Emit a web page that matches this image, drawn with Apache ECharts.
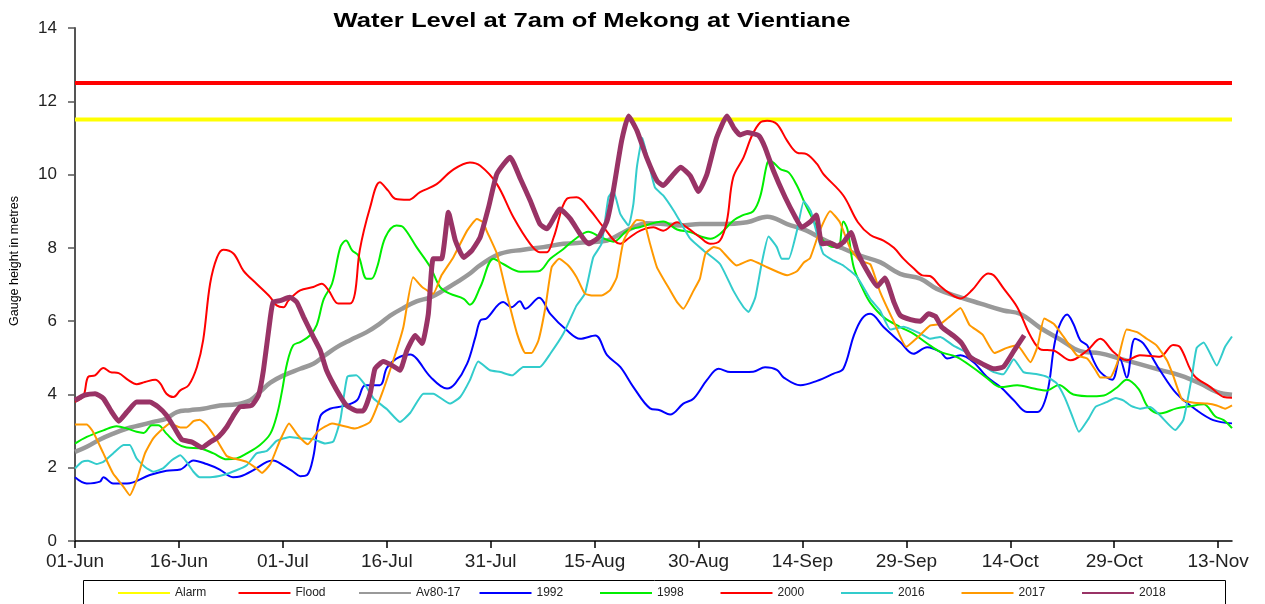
<!DOCTYPE html>
<html>
<head>
<meta charset="utf-8">
<script src="https://cdn.jsdelivr.net/npm/echarts@6/dist/echarts.min.js"></script>
<style>
html,body{margin:0;padding:0;background:#fff;}
#chart{width:1265px;height:604px;}
</style>
</head>
<body>
<div id="chart"></div>
<script>
// x values are days counted from 01-Jun (day 0) to 15-Nov (day 167)
const tickDays = [0,15,30,45,60,75,90,105,120,135,150,165];
const tickLabels = ['01-Jun','16-Jun','01-Jul','16-Jul','31-Jul','15-Aug','30-Aug','14-Sep','29-Sep','14-Oct','29-Oct','13-Nov'];
const seriesNames = ['Alarm','Flood','Av80-17','1992','1998','2000','2016','2017','2018'];
const alarmLevel = [[0,11.5],[167,11.5]];
const floodLevel = [[0,12.5],[167,12.5]];

const av8017 = [[0,2.43],[1.7,2.57],[3.6,2.77],[5.5,2.93],[7.5,3.07],[9.4,3.16],[11.3,3.25],[13.2,3.34],[14.7,3.52],[16.6,3.57],[18.5,3.61],[20.9,3.70],[23.3,3.73],[25.3,3.84],[26.7,4.07],[28.2,4.32],[30.1,4.52],[32.5,4.70],[34.4,4.84],[36.1,5.07],[37.8,5.29],[39.7,5.48],[42.1,5.70],[44,5.93],[45.5,6.15],[47.4,6.36],[49.3,6.54],[51.3,6.65],[53.2,6.84],[55.1,7.06],[57,7.3],[58.5,7.53],[61.4,7.84],[64.7,7.95],[67.6,8.02],[70.5,8.11],[73.9,8.15],[76.8,8.2],[78.7,8.38],[80.6,8.56],[82.5,8.67],[84.9,8.65],[87.4,8.61],[90.2,8.65],[93.1,8.65],[97,8.70],[99.9,8.85],[102.8,8.65],[105.6,8.47],[107.6,8.27],[110.4,8.02],[113.3,7.79],[116.2,7.61],[119.1,7.29],[122,7.16],[124.4,6.88],[127.8,6.65],[130.7,6.48],[134,6.29],[136.4,6.2],[139.3,5.82],[142.2,5.5],[145.1,5.18],[148,5.12],[150.9,4.97],[153.8,4.82],[156.6,4.67],[159.5,4.52],[162.4,4.3],[164.8,4.07],[167,3.99]];

const y1992 = [[0,1.74],[1.7,1.57],[3.6,1.62],[4.1,1.74],[5.5,1.57],[7.5,1.57],[10.8,1.80],[13.2,1.92],[15.2,1.95],[17.1,2.2],[19,2.1],[20.9,1.95],[22.8,1.74],[23.8,1.76],[25.7,1.93],[27.7,2.16],[28.6,2.2],[30,2.07],[31.5,1.89],[32.5,1.77],[33.5,1.8],[34.4,2.3],[35.4,3.4],[36.8,3.61],[38.7,3.68],[40.7,3.84],[41.9,4.25],[44,4.25],[45,4.72],[46.4,4.98],[48.4,5.09],[49.3,4.98],[51.3,4.48],[53.7,4.16],[54.9,4.3],[56.6,4.84],[57.8,5.57],[58.5,6.02],[59.4,6.07],[61.8,6.52],[63,6.38],[64.2,6.54],[65,6.34],[67,6.64],[68.6,6.2],[71,5.75],[72.9,5.52],[75.1,5.61],[76.8,5.07],[78.7,4.75],[80.6,4.2],[83,3.62],[84.4,3.57],[85.9,3.45],[87.8,3.75],[89.3,3.89],[91.2,4.39],[92.9,4.7],[94.6,4.61],[97.9,4.62],[99.6,4.74],[101.3,4.67],[102.3,4.46],[104.7,4.25],[107.1,4.37],[109.5,4.57],[110.9,4.7],[112.4,5.6],[113.6,6.07],[114.8,6.2],[116.7,5.84],[119.1,5.43],[121,5.11],[123,5.29],[124.9,5.16],[125.9,4.98],[127.8,5.07],[129.7,4.88],[131.6,4.48],[133.6,4.2],[135.5,3.84],[137.4,3.52],[138.9,3.52],[140.3,4.02],[141.3,5.29],[142,5.84],[143.2,6.18],[144.1,5.93],[145.1,5.48],[146.1,5.34],[147,4.93],[148,4.61],[149.7,4.4],[150.8,4.98],[151.8,4.46],[153,5.52],[154.2,5.39],[156.6,4.66],[159,4.02],[161.9,3.57],[164.3,3.3],[167,3.21]];

const y1998 = [[0,2.66],[1.7,2.84],[4.1,3.02],[6,3.13],[7.5,3.07],[8.9,2.98],[9.9,2.95],[11.1,3.16],[12,3.16],[13.2,2.93],[14.7,2.66],[16.1,2.55],[18,2.53],[20,2.39],[21.9,2.23],[23.3,2.25],[24.8,2.39],[26.7,2.62],[28.2,2.93],[29.2,3.48],[29.9,4.11],[30.6,4.84],[31.5,5.34],[32.5,5.43],[33.9,5.61],[34.9,5.9],[35.9,6.6],[37.1,7.02],[38.3,8.02],[39.1,8.2],[40,7.93],[40.9,7.79],[42.1,7.16],[42.8,7.16],[43.6,7.47],[44.8,8.29],[46.4,8.61],[47.4,8.56],[49.3,8.02],[51.3,7.47],[52.7,6.93],[54.1,6.75],[56.1,6.61],[57,6.45],[58.5,6.93],[60.4,7.7],[61.8,7.56],[64.3,7.35],[66.9,7.36],[68.6,7.7],[70.5,7.97],[72.4,8.27],[74.1,8.44],[75.8,8.3],[77.7,8.17],[79.7,8.47],[81.6,8.57],[84.9,8.72],[86.9,8.5],[88.8,8.43],[90.7,8.29],[91.7,8.25],[93.1,8.38],[95,8.74],[96.5,8.9],[97.9,9.0],[98.9,9.4],[99.9,10.3],[100.3,10.38],[101.8,10.15],[103,10.06],[104.2,9.7],[105.6,9.11],[107.1,8.56],[108,8.2],[109.5,8.02],[110.2,8.02],[110.9,8.72],[111.5,8.5],[112.4,7.47],[113.8,6.84],[114.8,6.5],[116.7,6.11],[119.1,5.84],[121,5.66],[123,5.39],[124.9,5.16],[127.3,5.02],[129.7,4.72],[131.6,4.45],[133.6,4.2],[136,4.25],[138.4,4.16],[140.3,4.11],[142,4.26],[144.1,4.0],[147,3.95],[148.5,3.97],[150.4,4.19],[151.8,4.4],[153.5,4.15],[154.9,3.65],[156.6,3.48],[159,3.62],[161,3.68],[162.9,3.73],[164.6,3.4],[165.8,3.3],[167,3.08]];

const y2000 = [[0,3.8],[1.2,3.95],[1.9,4.48],[2.9,4.52],[4.1,4.72],[5.1,4.61],[6.3,4.58],[7.7,4.39],[8.9,4.28],[10.1,4.34],[11.6,4.4],[12.3,4.3],[13.2,4.02],[14.2,3.93],[15.2,4.11],[16.4,4.25],[17.6,4.75],[18.5,5.48],[19.5,7.02],[20.5,7.74],[21.4,7.95],[22.9,7.84],[24.3,7.38],[26.2,7.02],[28.2,6.65],[29.1,6.43],[30.1,6.38],[30.8,6.56],[32.5,6.84],[34.4,6.93],[35.6,7.02],[36.6,6.84],[38,6.48],[39.7,6.48],[40.4,6.75],[41.1,7.93],[42.6,9.11],[44,9.79],[45.2,9.56],[46.2,9.34],[48.1,9.31],[49.8,9.52],[52.2,9.74],[54.4,10.11],[57,10.33],[58.5,10.24],[60.9,9.74],[63.3,8.83],[65.7,8.11],[67.1,7.88],[68.1,7.88],[69.1,8.29],[71,9.34],[72.4,9.38],[74.4,9.02],[76.3,8.56],[78.7,8.11],[80.1,8.29],[81.6,8.47],[83.5,8.56],[84.9,8.47],[86.9,8.7],[88.3,8.56],[90.2,8.29],[91.7,8.11],[93.1,8.2],[94.1,8.74],[95,9.92],[96.5,10.47],[97.7,11.06],[98.9,11.42],[99.9,11.47],[101.3,11.38],[102.8,10.92],[104.2,10.6],[105.6,10.56],[107.1,10.29],[108,10.02],[110.9,9.43],[113,8.7],[114.8,8.35],[116.7,8.2],[118.2,8.0],[119.6,7.7],[121,7.45],[122.3,7.25],[123.4,7.23],[124.9,6.95],[126.3,6.75],[127.8,6.62],[129.5,6.85],[131,7.2],[131.8,7.3],[132.6,7.25],[134,6.9],[136,6.38],[137.9,5.6],[139.5,5.22],[141.2,5.2],[143.7,4.93],[146.1,5.2],[148,5.52],[149.9,5.16],[151.8,4.93],[153.7,5.07],[156.6,5.03],[158.5,5.35],[159.5,5.29],[161.5,4.52],[163.9,4.2],[165.8,3.93],[167,3.91]];

const y2016 = [[0,1.98],[1,2.16],[1.9,2.19],[3.1,2.1],[4.1,2.16],[5.5,2.39],[7,2.62],[7.9,2.62],[8.9,2.25],[10.1,2.02],[11.3,1.89],[12.7,1.98],[14,2.21],[15.2,2.34],[16.1,2.16],[17.1,1.89],[18,1.74],[19.5,1.74],[21.4,1.8],[23.3,1.93],[24.8,2.07],[26.2,2.39],[27.7,2.46],[29.1,2.73],[31,2.84],[32.5,2.8],[34.4,2.78],[36.1,2.66],[37.3,2.72],[38.3,3.3],[39.3,4.48],[40.6,4.52],[41.9,4.25],[43.1,3.89],[45,3.6],[46.9,3.25],[48.4,3.5],[50.3,4.02],[51.7,4.02],[54.1,3.75],[55.6,3.93],[57,4.39],[58.2,4.9],[59.9,4.66],[61.4,4.61],[63.1,4.52],[64.7,4.75],[67.1,4.75],[68.6,5.11],[70.5,5.66],[72.4,6.43],[73.6,6.75],[74.8,7.74],[76,8.11],[77,9.38],[77.7,9.56],[78.7,8.93],[79.9,8.61],[80.6,9.2],[81.1,10.2],[81.9,11.0],[82.5,10.56],[83.7,9.65],[84.9,9.43],[86.4,9.02],[87.4,8.7],[88.8,8.25],[90.7,7.93],[93.1,7.56],[95,6.84],[96.5,6.38],[97.2,6.25],[98.2,6.65],[99.1,7.56],[100.1,8.31],[101.3,8.02],[102,7.7],[103,7.7],[104.2,8.47],[105.2,9.27],[106.2,9.0],[107.1,8.38],[108,7.84],[109.5,7.65],[110.9,7.52],[112.9,7.2],[114.8,6.6],[116.2,6.29],[117.7,5.77],[119.6,5.85],[122,5.66],[123.4,5.52],[124.9,5.57],[126.8,5.33],[128.8,5.13],[130.7,4.84],[132.6,4.61],[134,4.55],[135.5,4.96],[136.9,4.61],[138.9,4.55],[140.3,4.48],[141.7,4.3],[142.9,3.9],[143.9,3.43],[144.9,2.98],[146.3,3.34],[147.3,3.66],[148.9,3.79],[150.2,3.9],[151.3,3.84],[152.5,3.68],[153.7,3.61],[155.2,3.66],[156.6,3.43],[158.8,3.03],[160,3.32],[161.2,4.48],[161.9,5.27],[162.9,5.42],[164.8,4.79],[166,5.3],[167,5.58]];

const y2017 = [[0,3.18],[1.7,3.18],[2.6,2.98],[4.1,2.39],[5.5,1.84],[7,1.48],[7.9,1.25],[8.9,1.66],[10.1,2.39],[11.3,2.8],[12.7,3.07],[13.7,3.21],[15.2,3.1],[16.1,3.1],[17.1,3.27],[18,3.31],[19,3.16],[20.5,2.75],[21.9,2.32],[22.9,2.25],[24.8,2.16],[26.2,1.98],[27,1.86],[28.2,2.1],[29.6,2.75],[30.9,3.21],[32.1,2.9],[33.6,2.64],[35.1,3.0],[37.1,3.21],[38.3,3.16],[40.4,3.07],[42.6,3.25],[44.3,4.02],[46.4,5.2],[47.4,5.84],[48.8,7.2],[50.1,6.93],[51.7,6.75],[52.9,7.25],[54.6,7.74],[56.6,8.47],[58,8.79],[58.9,8.7],[59.4,8.47],[60.9,7.84],[62.3,6.75],[63.8,5.66],[65,5.13],[65.9,5.13],[66.9,5.48],[67.9,6.38],[68.8,7.47],[69.9,7.7],[71.2,7.52],[72.4,7.2],[73.6,6.75],[74.8,6.7],[76,6.7],[77.2,6.84],[78.2,7.2],[79.2,8.2],[81.1,8.76],[82.1,8.73],[83,8.11],[84,7.47],[85.9,6.84],[86.9,6.52],[87.8,6.34],[89.3,6.84],[90.2,7.16],[91,7.84],[92.2,8.02],[93.1,7.97],[95.5,7.52],[97.5,7.67],[99.9,7.47],[102.8,7.25],[104.2,7.36],[105.2,7.6],[106.1,7.72],[107.5,8.47],[109,9.0],[110.4,8.7],[111.9,7.98],[113.3,7.65],[114.8,7.55],[116.2,6.8],[118.1,6.02],[120,5.3],[121.6,5.55],[123.4,5.88],[124.9,5.92],[126.3,6.13],[127.8,6.36],[129.1,5.9],[131,5.63],[132.7,5.13],[134.5,5.27],[136,5.34],[137.9,4.88],[138.9,5.29],[139.9,6.07],[141.3,5.92],[142.7,5.57],[144.6,5.07],[146.1,4.98],[147.3,4.66],[148,4.46],[149.4,4.46],[150.4,4.84],[151.8,5.77],[153.3,5.7],[154.7,5.52],[156.1,5.34],[157.6,4.93],[158.5,4.52],[159.8,3.86],[161.5,3.77],[163.4,3.75],[164.8,3.7],[166,3.61],[167,3.7]];

const y2018 = [[0,3.84],[1.4,3.98],[2.9,4.02],[4.1,3.89],[5.3,3.52],[6.3,3.27],[7.5,3.52],[8.9,3.79],[10.8,3.79],[12,3.66],[13.2,3.43],[14.4,3.07],[15.4,2.77],[16.9,2.7],[18.3,2.55],[19.5,2.7],[20.7,2.84],[21.9,3.11],[22.9,3.43],[23.8,3.66],[25.5,3.70],[26.5,3.98],[27.2,4.66],[28.2,6.11],[28.6,6.52],[29.6,6.56],[31,6.65],[32,6.52],[33,6.11],[34.4,5.57],[35.4,5.2],[36.3,4.66],[37.8,4.11],[39.2,3.70],[40.7,3.55],[41.6,3.55],[42.6,4.02],[43.3,4.7],[44.5,4.9],[45.7,4.8],[46.9,4.66],[47.9,5.2],[49.1,5.61],[50.1,5.39],[51,6.2],[51.7,7.70],[52.9,7.70],[53.9,8.97],[54.9,8.2],[56.1,7.74],[57.3,7.93],[58.5,8.3],[59.7,9.11],[60.9,10.02],[62.8,10.47],[64.3,9.88],[65.7,9.29],[67.1,8.65],[68.1,8.52],[70,9.06],[71.5,8.79],[72.9,8.38],[74.1,8.11],[75.6,8.29],[76.8,8.74],[77.7,9.56],[78.9,10.92],[79.9,11.6],[81.1,11.2],[82.5,10.47],[84,9.83],[84.9,9.70],[86.2,9.97],[87.4,10.2],[88.8,9.97],[90,9.54],[91.2,10.0],[92.6,11.0],[94.1,11.6],[95.1,11.27],[96,11.08],[97,11.15],[98.7,11.06],[99.6,10.74],[100.8,10.11],[102.5,9.38],[104,8.83],[104.9,8.56],[106.2,8.72],[107,8.9],[107.8,8.11],[109,8.13],[110,8.04],[110.9,8.15],[112,8.42],[112.9,7.9],[114.3,7.38],[115.8,6.95],[116.9,7.18],[118.2,6.52],[119.1,6.16],[120.6,6.04],[122,6.0],[123.2,6.2],[124.2,6.13],[125.1,5.84],[126.8,5.6],[128,5.39],[129.2,5.02],[131.1,4.82],[132.6,4.70],[134,4.75],[135.5,5.18],[137,5.61]];

const FONT = 'Liberation Sans, Arial, sans-serif';
const chart = echarts.init(document.getElementById('chart'), null, {renderer: 'canvas'});

function lineSeries(name, data, color, width, smooth, z) {
  return {
    name: name, type: 'line', data: data, symbol: 'none', smooth: smooth,
    lineStyle: {color: color, width: width}, itemStyle: {color: color},
    z: z, emphasis: {disabled: true}, animation: false
  };
}

// one legend entry per name, evenly spaced like the original legend box
const legends = seriesNames.map(function (name, i) {
  return {
    data: [name], left: 118 + i * 120.5, top: 587, padding: 0,
    itemWidth: 52, itemHeight: 2, icon: 'rect', itemGap: 0,
    selectedMode: false, z: 5,
    textStyle: {fontFamily: FONT, fontSize: 12, color: '#222'}
  };
});

const option = {
  animation: false,
  backgroundColor: '#ffffff',
  grid: {left: 75, right: 33, top: 28, bottom: 63, containLabel: false},
  graphic: [
    {type: 'text', x: 592, y: 21, scaleX: 1.22, style: {text: 'Water Level at 7am of Mekong at Vientiane', font: 'bold 21px ' + FONT, fill: '#000', align: 'center', verticalAlign: 'middle'}},
    {type: 'text', x: 15, y: 261, rotation: Math.PI / 2, style: {text: 'Gauge height in metres', font: '12.5px ' + FONT, fill: '#000', align: 'center', verticalAlign: 'middle'}},
    {type: 'rect', z: 1, shape: {x: 83.5, y: 580.5, width: 1142, height: 40}, style: {fill: '#fff', stroke: '#000', lineWidth: 1}}
  ],
  xAxis: {
    type: 'value', min: 0, max: 167, interval: 15,
    axisLine: {show: true, lineStyle: {color: '#000', width: 1.5}},
    axisTick: {show: true, length: 7, inside: false, customValues: tickDays, lineStyle: {color: '#000', width: 1.5}},
    axisLabel: {customValues: tickDays, margin: 11, fontFamily: FONT, fontSize: 19, color: '#222',
      formatter: function (v) { const i = tickDays.indexOf(Math.round(v)); return i >= 0 ? tickLabels[i] : ''; }},
    splitLine: {show: false}
  },
  yAxis: {
    type: 'value', min: 0, max: 14, interval: 2,
    axisLine: {show: true, lineStyle: {color: '#555', width: 2}},
    axisTick: {show: true, length: 7, lineStyle: {color: '#555', width: 1.5}},
    axisLabel: {margin: 18, fontFamily: FONT, fontSize: 17, color: '#222'},
    splitLine: {show: false}
  },
  legend: legends,
  series: [
    lineSeries(seriesNames[0], alarmLevel, '#FFFF00', 4, false, 2),
    lineSeries(seriesNames[1], floodLevel, '#FF0000', 4, false, 3),
    lineSeries(seriesNames[2], av8017, '#999999', 4.5, 0.4, 4),
    lineSeries(seriesNames[3], y1992, '#0000FF', 2, 0.35, 5),
    lineSeries(seriesNames[4], y1998, '#00EE00', 2, 0.35, 6),
    lineSeries(seriesNames[5], y2000, '#FF0000', 2, 0.35, 7),
    lineSeries(seriesNames[6], y2016, '#33CCCC', 2, 0.15, 8),
    lineSeries(seriesNames[7], y2017, '#FF9900', 2, 0.15, 9),
    lineSeries(seriesNames[8], y2018, '#993366', 5, 0.15, 10)
  ]
};
chart.setOption(option);
</script>
</body>
</html>
